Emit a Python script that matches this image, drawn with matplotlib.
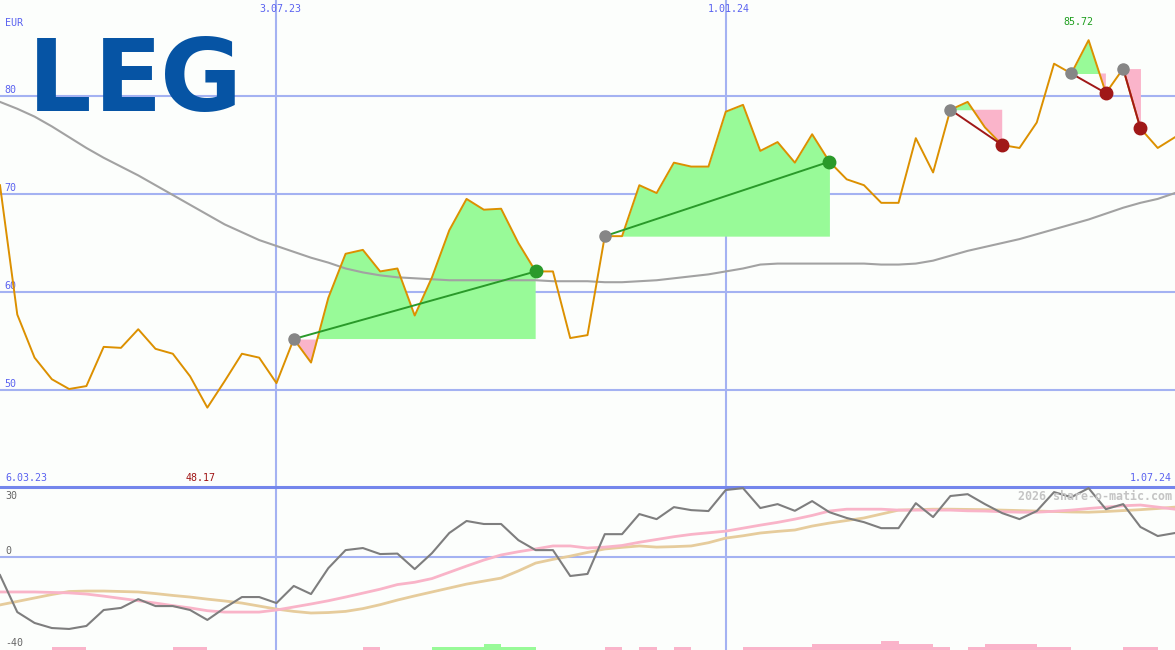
import matplotlib
matplotlib.use("Agg")
import matplotlib.pyplot as plt
import numpy as np
import pandas as pd

# weekly closes, EUR
dates = pd.date_range("2023-03-13", periods=69, freq="7D")

price = [70.9, 57.7, 53.3, 51.1, 50.1, 50.4, 54.4, 54.3, 56.2, 54.2,
         53.7, 51.4, 48.2, 50.9, 53.7, 53.3, 50.7, 55.2, 52.8, 59.4,
         63.9, 64.3, 62.1, 62.4, 57.6, 61.5, 66.3, 69.5, 68.4, 68.5,
         65.0, 62.1, 62.1, 55.3, 55.6, 65.7, 65.7, 70.9, 70.1, 73.2,
         72.8, 72.8, 78.4, 79.1, 74.4, 75.3, 73.2, 76.1, 73.3, 71.5,
         70.9, 69.1, 69.1, 75.7, 72.2, 78.6, 79.4, 76.8, 75.0, 74.7,
         77.3, 83.3, 82.3, 85.7, 80.3, 82.8, 76.7, 74.7, 75.8]

avg_long = [79.4, 78.7, 77.9, 76.9, 75.8, 74.7, 73.7, 72.8, 71.9, 70.9,
            69.9, 68.9, 67.9, 66.9, 66.1, 65.3, 64.7, 64.1, 63.5, 63.0,
            62.4, 62.0, 61.7, 61.5, 61.4, 61.3, 61.2, 61.2, 61.2, 61.2,
            61.2, 61.2, 61.1, 61.1, 61.1, 61.0, 61.0, 61.1, 61.2, 61.4,
            61.6, 61.8, 62.1, 62.4, 62.8, 62.9, 62.9, 62.9, 62.9, 62.9,
            62.9, 62.8, 62.8, 62.9, 63.2, 63.7, 64.2, 64.6, 65.0, 65.4,
            65.9, 66.4, 66.9, 67.4, 68.0, 68.6, 69.1, 69.5, 70.1]

# lower panel indicator lines
osc = [-7.8, -23.8, -28.5, -30.7, -31.1, -29.8, -22.9, -22.0, -18.2, -21.2,
       -21.2, -22.9, -27.2, -22.0, -17.3, -17.3, -19.9, -12.5, -16.0, -4.8,
       3.0, 3.9, 1.3, 1.5, -5.2, 1.7, 10.4, 15.6, 14.3, 14.3,
       7.3, 3.0, 3.0, -8.2, -7.3, 9.9, 9.9, 18.6, 16.4, 21.6,
       20.3, 19.9, 29.0, 29.8, 21.2, 22.9, 20.0, 24.2, 19.4, 16.9,
       15.1, 12.5, 12.5, 23.3, 17.3, 26.4, 27.2, 22.9, 19.0, 16.4,
       19.9, 28.1, 25.9, 29.8, 20.7, 22.9, 13.0, 9.1, 10.4]

osc_fast = [-15.1, -15.1, -15.1, -15.3, -15.5, -16.0, -16.9, -17.9, -18.9, -19.9,
            -21.0, -22.0, -23.2, -23.8, -23.8, -23.8, -22.9, -21.6, -20.3, -18.9,
            -17.3, -15.6, -13.9, -11.9, -10.9, -9.3, -6.6, -3.9, -1.3, 0.9,
            2.3, 3.5, 4.8, 4.8, 3.9, 4.3, 5.0, 6.4, 7.6, 8.8,
            9.8, 10.5, 11.2, 12.5, 13.8, 15.0, 16.4, 18.0, 19.9, 20.7,
            20.7, 20.7, 20.3, 20.3, 20.3, 20.3, 20.0, 19.9, 19.6, 19.4,
            19.4, 19.8, 20.3, 21.0, 21.6, 22.2, 22.5, 21.6, 20.7]

osc_slow = [-20.7, -19.2, -17.7, -16.2, -14.9, -14.7, -14.7, -14.9, -15.1, -15.8,
            -16.6, -17.3, -18.2, -19.0, -19.9, -21.2, -22.5, -23.5, -24.2, -24.0,
            -23.5, -22.3, -20.6, -18.6, -16.8, -15.1, -13.4, -11.7, -10.4, -9.1,
            -6.0, -2.6, -1.0, 0.4, 2.0, 3.5, 4.2, 4.8, 4.3, 4.5,
            4.8, 6.2, 8.2, 9.2, 10.4, 11.1, 11.7, 13.4, 14.7, 15.8,
            16.9, 18.6, 20.3, 20.5, 20.7, 20.7, 20.6, 20.5, 20.3, 20.1,
            19.9, 19.7, 19.5, 19.4, 19.7, 20.1, 20.5, 21.0, 21.6]

# signal bars: + green, - pink, magnitude = strength
signal = [0, 0, 0, -1, -1, 0, 0, 0, 0, 0,
          -1, -1, 0, 0, 0, 0, 0, 0, 0, 0,
          0, -1, 0, 0, 0, 1, 1, 1, 2, 1,
          1, 0, 0, 0, 0, -1, 0, -1, 0, -1,
          0, 0, 0, -1, -1, -1, -1, -2, -2, -2,
          -2, -3, -2, -2, -1, 0, -1, -2, -2, -2,
          -1, -1, 0, 0, 0, -1, -1, 0, 0]

trade_start = [17, 35, 55, 62, 65]
trade_end = [31, 48, 58, 64, 66]

grid_c = "#a4b2f2"
lbl_c = "#5a62f0"
bg = "#fcfefc"
green_fill = "#98fa98"
pink_fill = "#fab4ca"

W, H = 1175, 650
fig = plt.figure(figsize=(W / 100, H / 100), dpi=100, facecolor=bg)
ax = fig.add_axes([0, 1 - 487 / H, 1, 487 / H], facecolor=bg)
ax2 = fig.add_axes([0, 0, 1, 163 / H], facecolor=bg)

price = np.array(price)
x0, x1 = dates[0], dates[-1]

# --- upper panel ---
for lvl in [50, 60, 70, 80]:
    ax.axhline(lvl, color=grid_c, lw=1.5, zorder=1)
for d in ["2023-07-03", "2024-01-01"]:
    ax.axvline(pd.Timestamp(d), color=grid_c, lw=1.5, zorder=1)
    ax2.axvline(pd.Timestamp(d), color=grid_c, lw=1.5, zorder=1)

for s, e in zip(trade_start, trade_end):
    xs = dates[s:e + 1]
    ys = price[s:e + 1]
    base = price[s]
    ax.fill_between(xs, ys, base, where=ys >= base, interpolate=True,
                    color=green_fill, lw=0, zorder=2)
    ax.fill_between(xs, ys, base, where=ys <= base, interpolate=True,
                    color=pink_fill, lw=0, zorder=2)

ax.plot(dates, avg_long, color="#a2a2a2", lw=1.5, zorder=3)
ax.plot(dates, price, color="#dc9000", lw=1.4, zorder=4)

for s, e in zip(trade_start, trade_end):
    win = price[e] > price[s]
    c = "#2a9a2a" if win else "#a01818"
    ax.plot([dates[s], dates[e]], [price[s], price[e]], color=c, lw=1.4, zorder=5)
    ax.plot(dates[s], price[s], "o", color="#868686", ms=8, zorder=6)
    ax.plot(dates[e], price[e], "o", color=c, ms=9, zorder=6)

ax.set_xlim(x0, x1)
ax.set_ylim(40.1, 89.8)
ax.axis("off")

# --- lower panel ---
ax2.axhline(0, color=grid_c, lw=1.5, zorder=1)
sig = np.array(signal)
ax2.bar(dates, np.abs(sig) * 1.35, width=7, bottom=-40.2, align="edge",
        color=np.where(sig > 0, green_fill, pink_fill), lw=0, zorder=2)
ax2.plot(dates, osc_slow, color="#e6cc9c", lw=2, zorder=3)
ax2.plot(dates, osc_fast, color="#f9b4c8", lw=2, zorder=3)
ax2.plot(dates, osc, color="#7e7e7e", lw=1.5, zorder=4)
ax2.set_xlim(x0, x1)
ax2.set_ylim(-40.2, 30.3)
for sp in ["left", "right", "bottom"]:
    ax2.spines[sp].set_visible(False)
ax2.spines["top"].set_color("#7486ec")
ax2.spines["top"].set_linewidth(2.2)
ax2.set_xticks([])
ax2.set_yticks([])

# --- labels ---
def fx(x):
    return x / W

def fy(y):
    return 1 - y / H

mono = dict(family="DejaVu Sans Mono", fontsize=7.2)
fig.text(fx(5), fy(26), "EUR", color=lbl_c, **mono)
for lvl in [50, 60, 70, 80]:
    ax.text(0.004, lvl + 0.15, str(lvl), color=lbl_c, va="bottom",
            transform=ax.get_yaxis_transform(), **mono)
fig.text(fx(280), fy(9), "3.07.23", color=lbl_c, ha="center", va="center", **mono)
fig.text(fx(729), fy(9), "1.01.24", color=lbl_c, ha="center", va="center", **mono)
fig.text(fx(1078), fy(22), "85.72", color="#1e9e1e", ha="center", va="center", **mono)
fig.text(fx(5), fy(478), "6.03.23", color=lbl_c, ha="left", va="center", **mono)
fig.text(fx(201), fy(478), "48.17", color="#a01414", ha="center", va="center", **mono)
fig.text(fx(1172), fy(478), "1.07.24", color=lbl_c, ha="right", va="center", **mono)

fig.text(fx(5), fy(496), "30", color="#666666", va="center", **mono)
fig.text(fx(5), fy(551), "0", color="#666666", va="center", **mono)
fig.text(fx(5), fy(643), "-40", color="#666666", va="center", **mono)
fig.text(fx(1172), fy(496), "2026 share-o-matic.com", color="#c4c4c4",
         ha="right", va="center", family="DejaVu Sans Mono",
         fontsize=8.4, fontweight="bold")

# logo, letters spaced like the original mark
for letter, lx in zip("LEG", [28, 94, 160]):
    fig.text(fx(lx), fy(111), letter, color="#0654a4", family="DejaVu Sans",
             fontweight="bold", fontsize=72, ha="left", va="baseline", zorder=10)

fig.savefig("out.png", dpi=100, facecolor=bg)
